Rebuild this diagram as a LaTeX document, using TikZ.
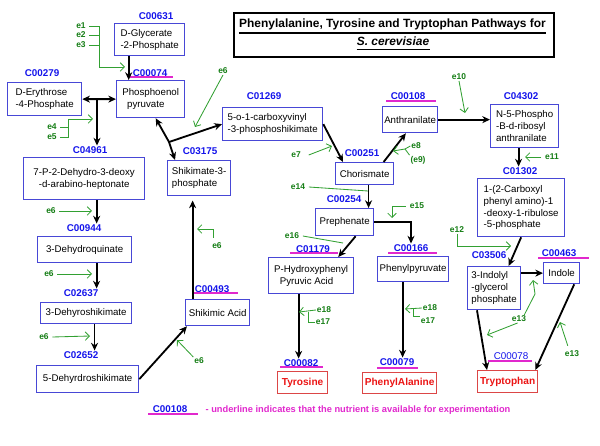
\documentclass[tikz,border=0pt]{standalone}
\usepackage{fontspec}
\setmainfont{Liberation Sans}
\usetikzlibrary{arrows.meta}
\definecolor{boxblue}{RGB}{72,72,214}
\definecolor{idblue}{RGB}{20,20,235}
\definecolor{egreen}{RGB}{20,125,20}
\definecolor{lgreen}{RGB}{50,160,50}
\definecolor{avail}{RGB}{225,40,205}
\definecolor{aared}{RGB}{235,20,20}
\definecolor{redbox}{RGB}{220,70,70}
\tikzset{
	cbox/.style={draw=boxblue, line width=0.9pt, anchor=north west, align=left, inner xsep=1pt, inner ysep=1pt, font=\fontsize{6.9}{8.4}\selectfont},
	abox/.style={draw=redbox, line width=0.9pt, anchor=north west, inner sep=1pt, text=aared, font=\bfseries\fontsize{7.2}{8.6}\selectfont},
	cid/.style={text=idblue, inner sep=0.5pt, font=\bfseries\fontsize{7}{8}\selectfont},
	enz/.style={text=egreen, inner sep=0.5pt, font=\bfseries\fontsize{6}{7}\selectfont},
	rxn/.style={line width=1.3pt, -{Stealth[length=5.5pt,width=5pt]}},
	rxnb/.style={line width=1.3pt, {Stealth[length=5.5pt,width=5pt]}-{Stealth[length=5.5pt,width=5pt]}},
	eline/.style={draw=lgreen, line width=0.6pt},
	earr/.style={eline, -{Straight Barb[length=3pt,width=6pt]}},
	uline/.style={draw=avail, line width=0.9pt}
}
\begin{document}
\begin{tikzpicture}[x=0.025cm, y=-0.025cm]
	\useasboundingbox (0,0) rectangle (600,446);
	\node[draw, line width=1.6pt, minimum width=8cm, minimum height=1.1cm, anchor=north west] (ttlbox) at (233,12) [] {};
	\node[anchor=base, inner sep=0pt, font=\bfseries\fontsize{8.5}{10}\selectfont] (ttl1) at (392.5,28) [] {Phenylalanine, Tyrosine and Tryptophan Pathways for};
	\node[anchor=base, inner sep=0pt, font=\bfseries\itshape\fontsize{8.5}{10}\selectfont] (ttl2) at (393,45.5) [] {S. cerevisiae};
	\draw[line width=1.2pt] ([yshift=-3.8pt]ttl1.base west) -- ([yshift=-3.8pt]ttl1.base east);
	\draw[line width=1.2pt] ([yshift=-2.9pt]ttl2.base west) -- ([yshift=-2.9pt]ttl2.base east);

	\node[cid] (c00631) at (156,16) [] {C00631};
	\node[cbox, minimum width=1.75cm, minimum height=0.8cm] (dg) at (114,23) [] {D-Glycerate\\-2-Phosphate};
	\node[cid] (c00074) at (150,73) [] {C00074};
	\node[cbox, minimum width=1.7cm, minimum height=0.925cm] (pep) at (116,80) [] {Phosphoenol\\\hspace*{3.5pt}pyruvate};
	\node[cid] (c00279) at (42,73) [] {C00279};
	\node[cbox, minimum width=1.85cm, minimum height=0.825cm] (de4p) at (7,82) [] {D-Erythrose\\-4-Phosphate};
	\node[cid] (c04961) at (90,150) [] {C04961};
	\node[cbox, align=center, minimum width=3.025cm, minimum height=1.05cm] (dahp) at (23,157) [] {7-P-2-Dehydro-3-deoxy\\-d-arabino-heptonate};
	\node[cid] (c00944) at (84,228) [] {C00944};
	\node[cbox, minimum width=2.35cm, minimum height=0.65cm] (dhq) at (37,236) [] {3-Dehydroquinate};
	\node[cid] (c02637) at (81,293) [] {C02637};
	\node[cbox, minimum width=2.275cm, minimum height=0.525cm] (dhs) at (40,302) [] {3-Dehyroshikimate};
	\node[cid] (c02652) at (81,355) [] {C02652};
	\node[cbox, minimum width=2.55cm, minimum height=0.675cm] (dhds) at (36,365) [] {5-Dehyrdroshikimate};
	\node[cid] (c00493) at (212,289) [] {C00493};
	\node[cbox, minimum width=1.6cm, minimum height=0.65cm] (shik) at (185,299) [] {Shikimic Acid};
	\node[cid] (c03175) at (200,151) [] {C03175};
	\node[cbox, minimum width=1.575cm, minimum height=0.875cm] (s3p) at (167,160) [] {Shikimate-3-\\phosphate};
	\node[cid] (c01269) at (264,96) [] {C01269};
	\node[cbox, minimum width=2.5cm, minimum height=0.825cm] (epsp) at (222,107) [] {5-o-1-carboxyvinyl\\-3-phosphoshikimate};
	\node[cid] (c00251) at (362,153) [] {C00251};
	\node[cbox, minimum width=1.45cm, minimum height=0.55cm] (chor) at (335,162) [] {Chorismate};
	\node[cid] (c00108) at (408,96) [] {C00108};
	\node[cbox, minimum width=1.375cm, minimum height=0.65cm] (anth) at (382,106) [] {Anthranilate};
	\node[cid] (c04302) at (521,96) [] {C04302};
	\node[cbox, minimum width=1.7cm, minimum height=1.075cm] (prpp) at (490,104) [] {N-5-Phospho\\-B-d-ribosyl\\anthranilate};
	\node[cid] (c01302) at (520,171) [] {C01302};
	\node[cbox, minimum width=2.175cm, minimum height=1.45cm] (cdrp) at (477,178) [] {1-(2-Carboxyl\\phenyl amino)-1\\-deoxy-1-ribulose\\-5-phosphate};
	\node[cid] (c03506) at (489,255) [] {C03506};
	\node[cbox, minimum width=1.325cm, minimum height=1.075cm] (igp) at (467,266) [] {3-Indolyl\\-glycerol\\phosphate};
	\node[cid] (c00463) at (559,253) [] {C00463};
	\node[cbox, minimum width=0.9cm, minimum height=0.525cm] (indole) at (543,262) [] {Indole};
	\node[cid, font=\fontsize{7}{8}\selectfont] (c00078) at (511,356) [] {C00078};
	\node[abox, minimum width=1.5cm, minimum height=0.55cm] (trp) at (477,370) [] {Tryptophan};
	\node[cid] (c00254) at (344,199) [] {C00254};
	\node[cbox, minimum width=1.45cm, minimum height=0.675cm] (preph) at (315,208) [] {Prephenate};
	\node[cid] (c00166) at (411,248) [] {C00166};
	\node[cbox, minimum width=1.775cm, minimum height=0.625cm] (phpyr) at (377,256) [] {Phenylpyruvate};
	\node[cid] (c01179) at (313,249) [] {C01179};
	\node[cbox, minimum width=2.125cm, minimum height=0.9cm] (hpp) at (268,257) [] {P-Hydroxyphenyl\\\hspace*{4pt}Pyruvic Acid};
	\node[cid] (c00082) at (301,363) [] {C00082};
	\node[abox, minimum width=1.25cm, minimum height=0.55cm] (tyr) at (277,371) [] {Tyrosine};
	\node[cid] (c00079) at (397,362) [] {C00079};
	\node[abox, minimum width=1.85cm, minimum height=0.525cm] (phe) at (362,372) [] {PhenylAlanine};

	\draw[uline] (130,77) -- (173,77);
	\draw[uline] (193,293) -- (238,293);
	\draw[uline] (386,101) -- (436,101);
	\draw[uline] (538,258) -- (589,258);
	\draw[uline] (488,361) -- (532,361);
	\draw[uline] (290,253) -- (338,253);
	\draw[uline] (388,253) -- (437,253);
	\draw[uline] (280,367) -- (323,367);
	\draw[uline] (377,368) -- (418,368);

	\coordinate (j1) at (97,98.5);
	\coordinate (j2) at (169,142);
	\draw[rxn] ([xshift=-14.9pt]dg.south) -- ([xshift=-14.9pt]dg.south |- pep.north);
	\draw[rxnb] (de4p.east) -- (pep.west);
	\draw[rxn] (j1) -- (j1 |- c04961.north);
	\draw[rxn] ([xshift=8.9pt]dahp.south) -- ([xshift=8.9pt]dahp.south |- c00944.north);
	\draw[rxn] ([xshift=8.5pt]dhq.south) -- ([xshift=8.5pt]dhq.south |- c02637.north);
	\draw[rxn] ([xshift=6pt]dhs.south) -- ([xshift=6pt]dhs.south |- c02652.north);
	\draw[rxn] (dhds.east) -- ([xshift=1.4pt]shik.south west);
	\draw[rxn] ([xshift=-17.8pt]shik.north) -- ([xshift=-17.8pt,yshift=-3pt]shik.north |- s3p.south);
	\draw[rxn] (j2) -- ([xshift=3.6pt]pep.south);
	\draw[rxn] (j2) -- ([xshift=5.7pt]s3p.north west);
	\draw[rxn] (j2) -- (epsp.west);
	\draw[rxn] (epsp.east) -- ([xshift=5.7pt]chor.north west);
	\draw[rxn] ([xshift=13.5pt]chor.north) -- ([xshift=17pt]anth.south west);
	\draw[rxn] (anth.east) -- (anth.east -| prpp.west);
	\draw[rxn] ([xshift=-4.3pt]prpp.south) -- ([xshift=-4.3pt]prpp.south |- c01302.north);
	\draw[rxn] (cdrp.south) -- ([xshift=10.3pt]igp.north);
	\draw[rxn] (indole.west -| igp.east) -- (indole.west);
	\draw[rxn] ([xshift=7.1pt]igp.south west) -- ([xshift=7.1pt]trp.north west);
	\draw[rxn] ([xshift=-4.3pt]indole.south east) -- ([xshift=-2.1pt]trp.north east);
	\draw[rxn] ([xshift=2.8pt]chor.south) -- ([xshift=2.8pt]chor.south |- preph.north);
	\draw[rxn] (preph.east) -| (c00166.north);
	\draw[rxn] ([xshift=7.8pt]preph.south) -- ([xshift=-11.4pt]hpp.north east);
	\draw[rxn] ([xshift=-8.9pt]hpp.south) -- ([xshift=-8.9pt]hpp.south |- c00082.north);
	\draw[rxn] ([xshift=-7.5pt]phpyr.south) -- ([xshift=-7.5pt]phpyr.south |- c00079.north);

	\node[enz] (e1) at (81,26) [] {e1};
	\node[enz] (e2) at (81,35) [] {e2};
	\node[enz] (e3) at (81,45) [] {e3};
	\coordinate (g1) at (99,67);
	\coordinate (g1t) at (125,67);
	\draw[eline] ([xshift=2pt]e1.east) -| (g1);
	\draw[eline] ([xshift=2pt]e2.east) -- (e2.east -| g1);
	\draw[eline] ([xshift=2pt]e3.east) -- (e3.east -| g1);
	\draw[earr] (g1) -- (g1t);
	\node[enz] (e4) at (52,127) [] {e4};
	\node[enz] (e5) at (52,137) [] {e5};
	\coordinate (g4) at (68,119);
	\coordinate (g4t) at (93,119);
	\draw[eline] ([xshift=2pt]e5.east) -| (g4);
	\draw[eline] ([xshift=2pt]e4.east) -- (e4.east -| g4);
	\draw[earr] (g4) -- (g4t);
	\node[enz] (e6a) at (51,211) [] {e6};
	\coordinate (g6a) at (92,211);
	\draw[earr] ([xshift=2pt]e6a.east) -- (g6a);
	\node[enz] (e6b) at (49,274) [] {e6};
	\coordinate (g6b) at (92,274);
	\draw[earr] ([xshift=2pt]e6b.east) -- (g6b);
	\node[enz] (e6c) at (44,337) [] {e6};
	\coordinate (g6c) at (90,336);
	\draw[earr] ([xshift=2pt]e6c.east) -- (g6c);
	\node[enz] (e6d) at (199,361) [] {e6};
	\coordinate (g6d) at (177,340);
	\draw[earr] (e6d.north west) -- (g6d);
	\node[enz] (e6e) at (217,246) [] {e6};
	\coordinate (g6e) at (197,229);
	\draw[earr] ([xshift=-2.8pt,yshift=3pt]e6e.north) |- (g6e);
	\node[enz] (e6f) at (223,71) [] {e6};
	\coordinate (g6f) at (195,127);
	\draw[earr] (e6f.south) -- (g6f);
	\node[enz] (e7) at (296,155) [] {e7};
	\coordinate (g7) at (332,146);
	\draw[earr] ([xshift=5pt]e7.east) -- (g7);
	\node[enz] (e8) at (416,146) [] {e8};
	\node[enz] (e9) at (418,160) [] {(e9)};
	\coordinate (g8) at (405,149);
	\coordinate (g8t) at (393,151);
	\draw[earr] (e8.west) -- (g8) -- (g8t);
	\draw[eline] (g8) -- (e9.north west);
	\node[enz] (e10) at (459,77) [] {e10};
	\coordinate (g10) at (465,113);
	\draw[earr] (e10.south) -- (g10);
	\node[enz] (e11) at (552,157) [] {e11};
	\coordinate (g11) at (525,157);
	\draw[earr] ([xshift=-2pt]e11.west) -- (g11);
	\node[enz] (e12) at (457,230) [] {e12};
	\coordinate (g12) at (511,246);
	\draw[earr] (e12.south) |- (g12);
	\node[enz] (e13a) at (519,319) [] {e13};
	\coordinate (g13a) at (487,335);
	\coordinate (g13m) at (535,294);
	\coordinate (g13b) at (533,280);
	\draw[earr] ([xshift=-1pt]e13a.south) -- (g13a);
	\draw[earr] ([xshift=-2pt]e13a.north east) -- (g13m) -- (g13b);
	\node[enz] (e13b) at (572,354) [] {e13};
	\coordinate (g13c) at (560,322);
	\draw[earr] ([xshift=-3pt,yshift=3pt]e13b.north) -- (g13c);
	\node[enz] (e14) at (298,187) [] {e14};
	\coordinate (g14) at (368,191);
	\draw[eline] ([xshift=2pt]e14.east) -- (g14);
	\node[enz] (e15) at (417,206) [] {e15};
	\coordinate (g15) at (392,218);
	\draw[earr] ([xshift=-2pt]e15.west) -| (g15);
	\node[enz] (e16) at (292,236) [] {e16};
	\coordinate (g16) at (343,243);
	\draw[eline] ([xshift=2pt]e16.east) -- (g16);
	\node[enz] (e18t) at (324,310) [] {e18};
	\node[enz] (e17t) at (323,322) [] {e17};
	\coordinate (g18t) at (299,312);
	\coordinate (g17t) at (308,312);
	\draw[earr] (e18t.west) -- (g18t);
	\draw[eline] (e17t.west) -| (g17t);
	\node[enz] (e18p) at (430,308) [] {e18};
	\node[enz] (e17p) at (428,321) [] {e17};
	\coordinate (g18p) at (405,309);
	\coordinate (g17p) at (413,309);
	\draw[earr] (e18p.west) -- (g18p);
	\draw[eline] ([yshift=3pt]e17p.west) -| (g17p);

	\node[cid] (c00108n) at (170,409) [] {C00108};
	\draw[uline] (148,414) -- (198,414);
	\node[text=avail, inner sep=0pt, font=\bfseries\fontsize{6.6}{8}\selectfont] (note) at (358,410) [] {- underline indicates that the nutrient is available for experimentation};
\end{tikzpicture}
\end{document}
